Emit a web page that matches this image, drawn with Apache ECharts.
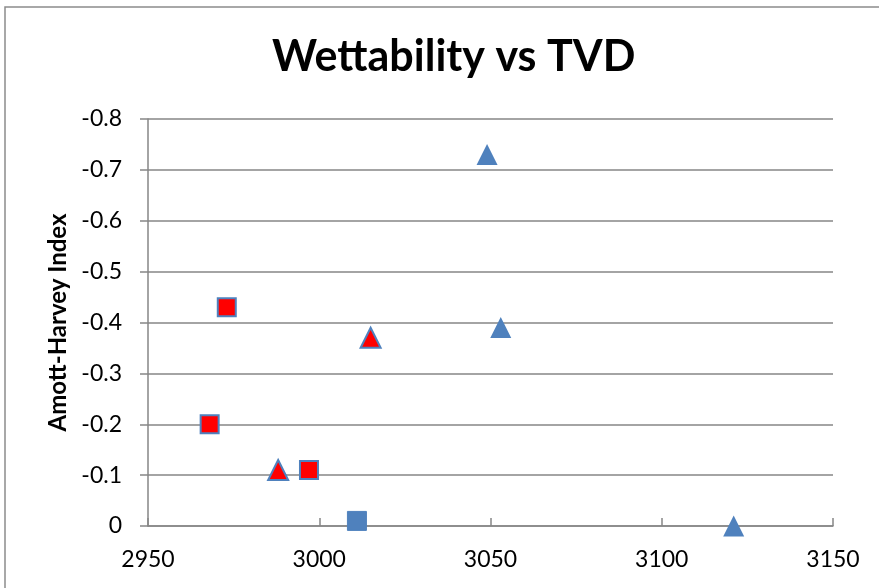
<!DOCTYPE html>
<html>
<head>
<meta charset="utf-8">
<script src="https://cdn.jsdelivr.net/npm/echarts@6/dist/echarts.min.js"></script>
<style>
  html, body { margin: 0; padding: 0; background: #fff; }
  #chart { width: 879px; height: 588px; }
</style>
</head>
<body>
<div id="chart"></div>
<script>
// TVD (x) and Amott-Harvey index (y) for each sample group
const redSquaresTVD   = [2973, 2968, 2997];
const redSquaresIndex = [-0.43, -0.20, -0.11];

const redTrianglesTVD   = [2988, 3015];
const redTrianglesIndex = [-0.11, -0.37];

const blueSquaresTVD   = [3011];
const blueSquaresIndex = [-0.01];

const blueTrianglesTVD   = [3049, 3053, 3121];
const blueTrianglesIndex = [-0.73, -0.39, 0.00];

const xTicks = [2950, 3000, 3050, 3100, 3150];
const yTicks = [-0.8, -0.7, -0.6, -0.5, -0.4, -0.3, -0.2, -0.1, 0];

const pairs = (xs, ys) => xs.map((x, i) => [x, ys[i]]);

const BLUE = '#4F81BD';
const RED = '#FF0000';
const GRID_GREY = '#868686';
const FONT = 'Lato';

const chart = echarts.init(document.getElementById('chart'), null, { renderer: 'canvas' });

chart.setOption({
  animation: false,
  backgroundColor: '#ffffff',
  textStyle: { fontFamily: FONT },
  graphic: [{
    type: 'rect',
    shape: { x: 5, y: 7, width: 900, height: 600 },
    style: { fill: 'none', stroke: '#8c8c8c', lineWidth: 1.5 },
    silent: true
  }],
  title: {
    text: 'Wettability vs TVD',
    left: 267,
    top: 31,
    textStyle: { fontFamily: FONT, fontWeight: 'bold', fontSize: 43, color: '#000' }
  },
  grid: { left: 148, right: 46, top: 119, bottom: 62 },
  xAxis: {
    type: 'value',
    min: xTicks[0],
    max: xTicks[xTicks.length - 1],
    interval: 50,
    axisLine: { show: true, lineStyle: { color: GRID_GREY, width: 1.5 } },
    axisTick: { show: true, inside: true, length: 8, lineStyle: { color: GRID_GREY, width: 1.5 } },
    splitLine: { show: false },
    axisLabel: {
      color: '#000', fontSize: 23, fontFamily: FONT, margin: 22,
      formatter: v => String(v)
    }
  },
  yAxis: {
    type: 'value',
    inverse: true,
    min: yTicks[0],
    max: yTicks[yTicks.length - 1],
    interval: 0.1,
    name: 'Amott-Harvey Index',
    nameLocation: 'middle',
    nameRotate: 90,
    nameGap: 76,
    nameTextStyle: { color: '#000', fontSize: 24, fontWeight: 'bold', fontFamily: FONT },
    axisLine: { show: true, lineStyle: { color: GRID_GREY, width: 1.5 } },
    axisTick: { show: true, inside: false, length: 8, lineStyle: { color: GRID_GREY, width: 1.5 } },
    splitLine: { show: true, lineStyle: { color: GRID_GREY, width: 1.5 } },
    axisLabel: {
      color: '#000', fontSize: 23, fontFamily: FONT, margin: 26,
      formatter: v => (Math.abs(v) < 1e-9 ? '0' : v.toFixed(1))
    }
  },
  series: [
    {
      type: 'scatter', name: 'Red squares',
      data: pairs(redSquaresTVD, redSquaresIndex),
      symbol: 'rect', symbolSize: 18,
      itemStyle: { color: RED, borderColor: BLUE, borderWidth: 2, opacity: 1 }
    },
    {
      type: 'scatter', name: 'Red triangles',
      data: pairs(redTrianglesTVD, redTrianglesIndex),
      symbol: 'triangle', symbolSize: 20,
      itemStyle: { color: RED, borderColor: BLUE, borderWidth: 2, opacity: 1 }
    },
    {
      type: 'scatter', name: 'Blue squares',
      data: pairs(blueSquaresTVD, blueSquaresIndex),
      symbol: 'rect', symbolSize: 19,
      itemStyle: { color: BLUE, borderColor: BLUE, borderWidth: 1, opacity: 1 }
    },
    {
      type: 'scatter', name: 'Blue triangles',
      data: pairs(blueTrianglesTVD, blueTrianglesIndex),
      symbol: 'triangle', symbolSize: 21,
      itemStyle: { color: BLUE, opacity: 1 }
    }
  ]
});
</script>
</body>
</html>
